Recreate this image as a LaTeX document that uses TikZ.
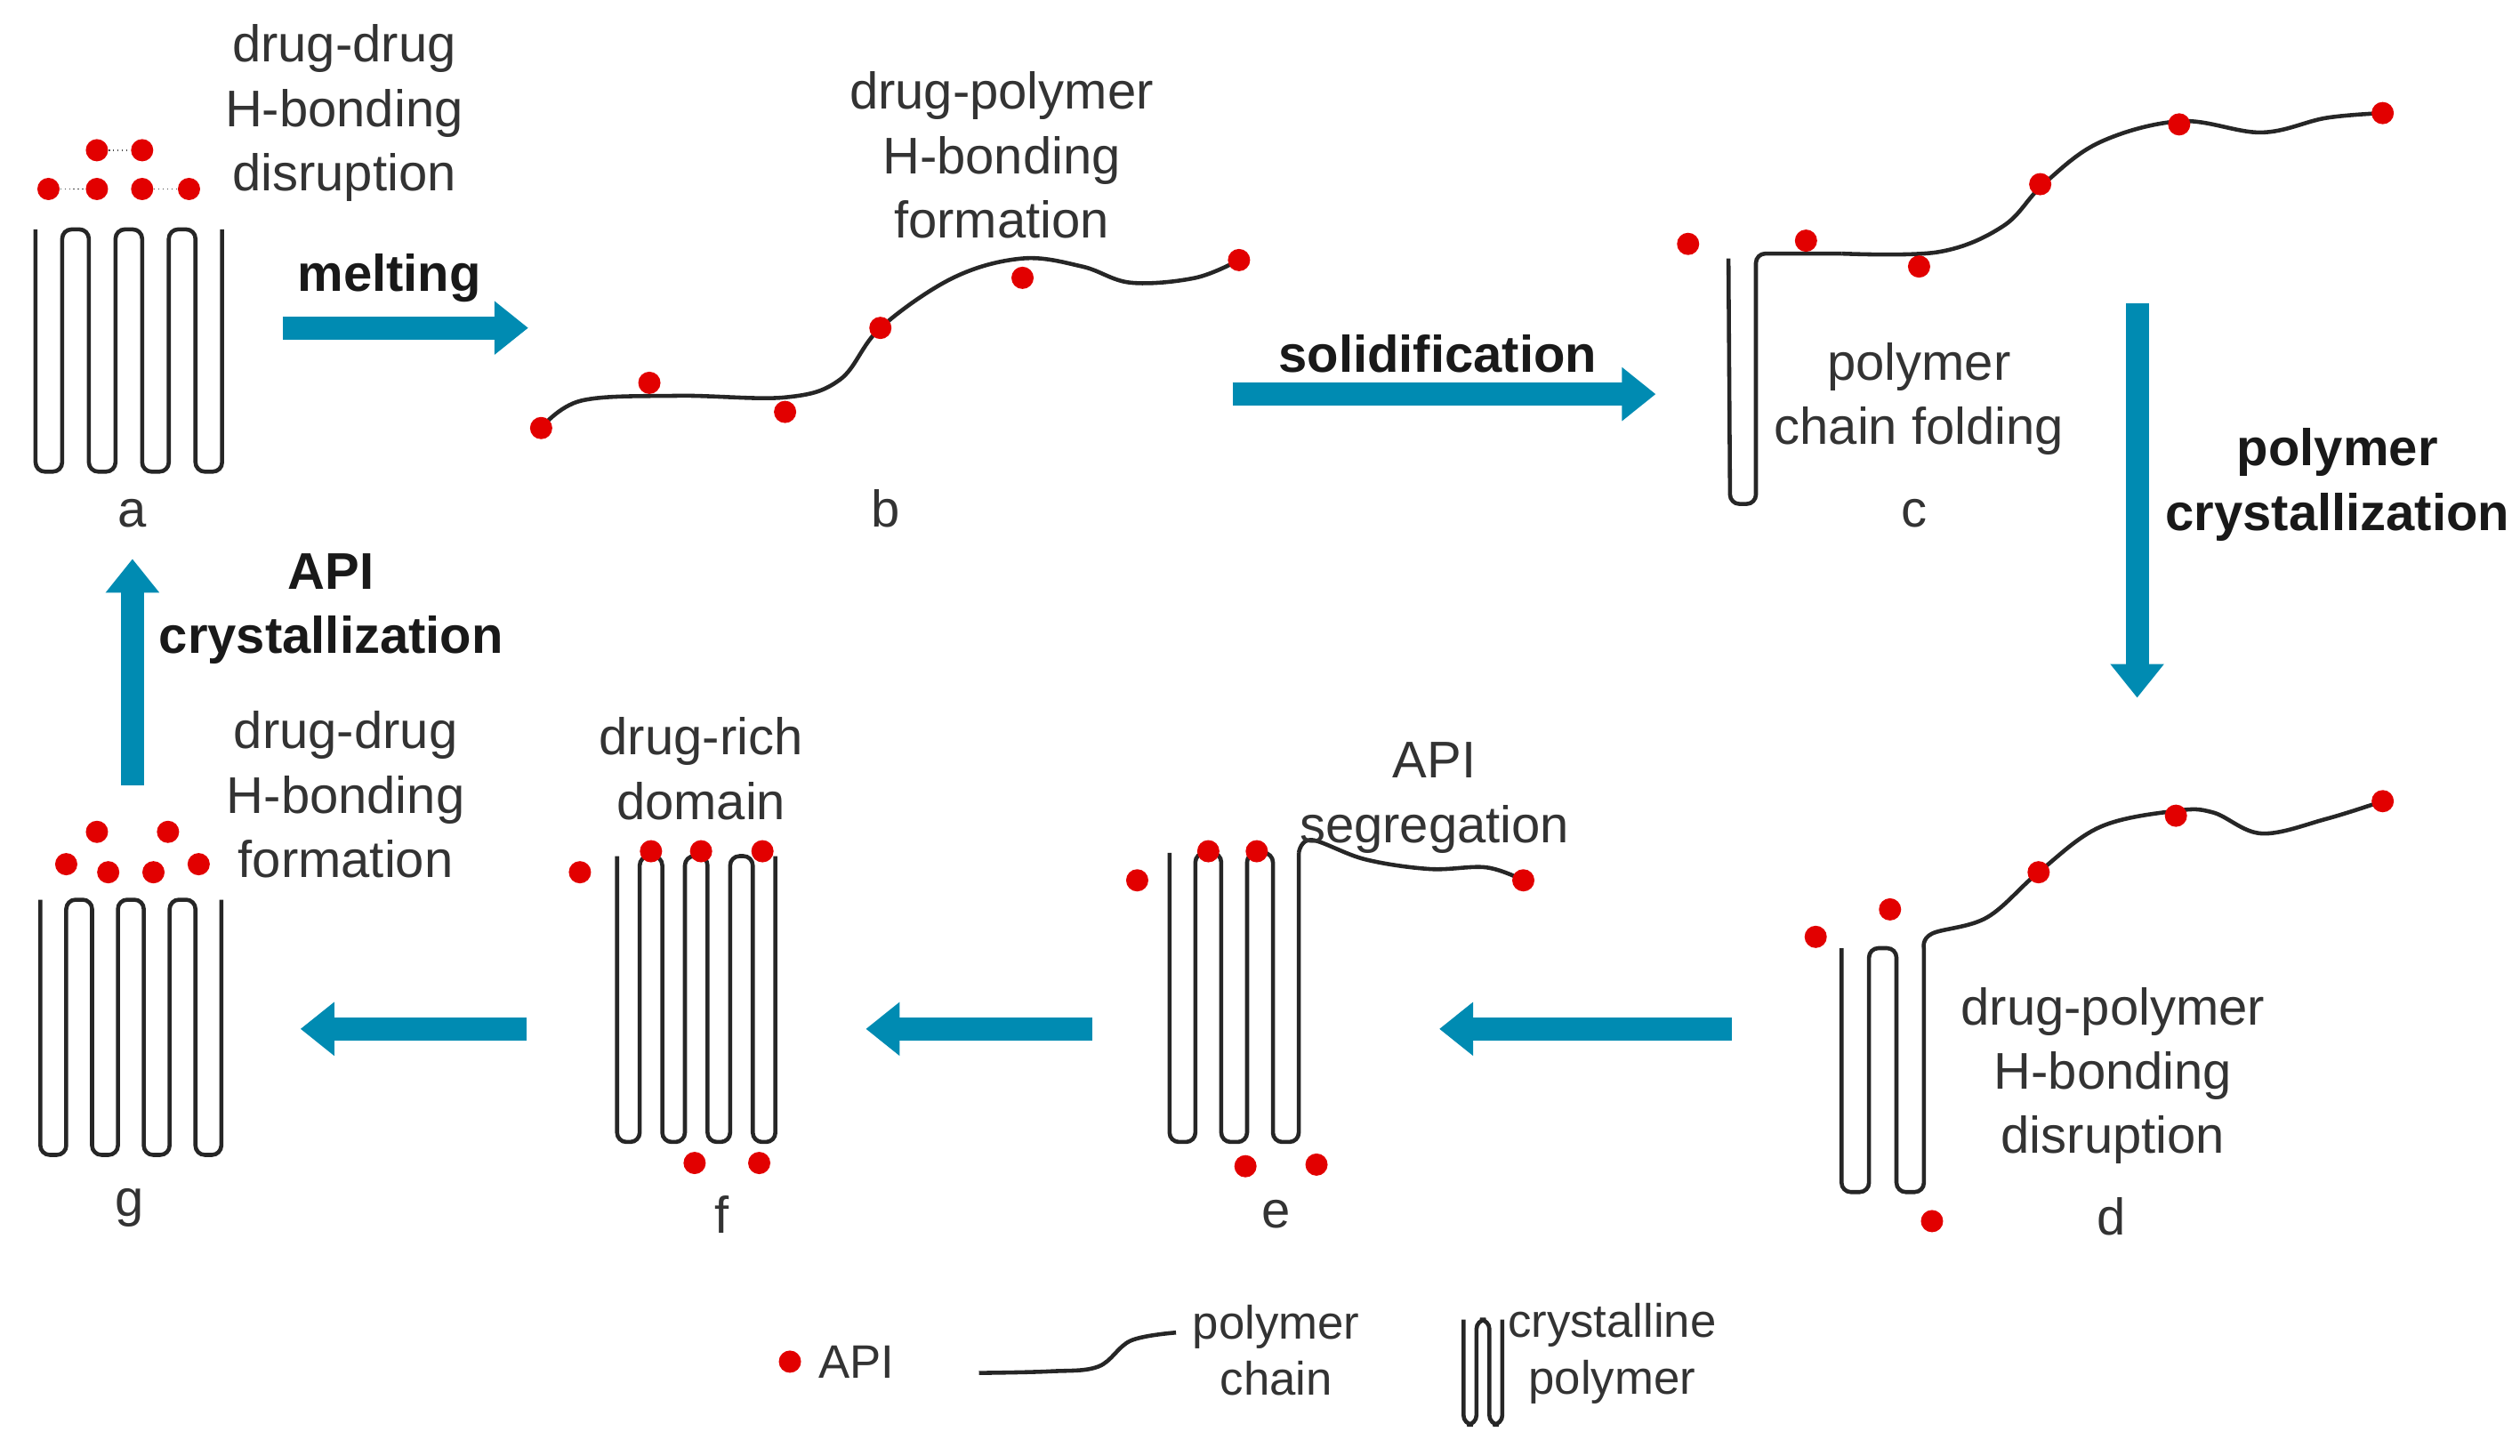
\documentclass[tikz,border=0pt]{standalone}
\usepackage{fontspec}
\setmainfont{Liberation Sans}
\usetikzlibrary{arrows.meta}
\definecolor{flow}{RGB}{0,139,178}
\definecolor{apired}{RGB}{226,0,0}
\tikzset{
  chain/.style={line width=1.3pt,black!85},
  api/.style={circle,fill=apired,inner sep=0pt,minimum size=0.25cm},
  stage/.style={line width=0.26cm,flow,-{Triangle[length=0.38cm,width=0.58cm]}},
  txt/.style={align=center,text=black!80,font=\fontsize{16.5}{20.6}\selectfont},
  bold/.style={txt,font=\fontsize{16.5}{20.6}\selectfont\bfseries,text=black!90},
}
% folded lamella: x0, top, bottom, strands, spacing
\newcommand{\lamella}[5]{%
  \pgfmathtruncatemacro\lastk{#4-2}%
  \draw[chain,rounded corners=3pt] (#1,#2)
    \foreach \k in {0,...,\lastk}{
      -- ({#1+\k*#5},{mod(\k,2)==0 ? #3 : #2})
      -- ({#1+(\k+1)*#5},{mod(\k,2)==0 ? #3 : #2}) }
    -- ({#1+(#4-1)*#5},{mod(#4-1,2)==0 ? #3 : #2});}

\begin{document}
\begin{tikzpicture}[x=0.01816cm,y=-0.01816cm]
  \useasboundingbox (0,0) rectangle (1560,901);

  % a
  \lamella{22}{142}{292}{8}{16.5}
  \node[txt] (la) at (82,318) {a};
  \foreach \n/\x/\y in {a1/30/117,a2/60/117,a3/88/117,a4/117/117,a5/60/93,a6/88/93}
    \node[api] (\n) at (\x,\y) {};
  \draw[densely dotted,black!70] (a1) -- (a2) (a3) -- (a4) (a5) -- (a6);
  \node[txt] (ta) at (213,70) {drug-drug\\H-bonding\\disruption};
  \coordinate (m1) at (175,203); \coordinate (m2) at (327,203);
  \draw[stage] (m1) -- (m2);
  \node[bold] (melt) at (241,172) {melting};

  % b
  \draw[chain] plot[smooth,tension=.6] coordinates {(335,265) (360,248) (420,245) (486,246) (520,235) (545,203) (590,172) (633,160) (670,165) (700,175) (740,172) (767,161)};
  \foreach \n/\x/\y in {b1/335/265,b2/402/237,b3/486/255,b4/545/203,b5/633/172,b6/767/161}
    \node[api] (\n) at (\x,\y) {};
  \node[txt] (lb) at (548,315) {b};
  \node[txt] (tb) at (620,96) {drug-polymer\\H-bonding\\formation};
  \coordinate (s1) at (763,244); \coordinate (s2) at (1025,244);
  \draw[stage] (s1) -- (s2);
  \node[bold] (solid) at (890,219) {solidification};

  % c
  \draw[chain,rounded corners=3pt] (1070,160) -- (1071,312) -- (1087,312) -- (1087,157) -- (1140,157);
  \draw[chain] plot[smooth,tension=.6] coordinates {(1140,157) (1200,156) (1240,140) (1265,114) (1300,88) (1350,75) (1400,82) (1440,73) (1475,70)};
  \foreach \n/\x/\y in {c1/1045/151,c2/1118/149,c3/1188/165,c4/1263/114,c5/1349/77,c6/1475/70}
    \node[api] (\n) at (\x,\y) {};
  \node[txt] (lc) at (1185,318) {c};
  \node[txt] (tc) at (1188,247) {polymer\\chain folding};
  \coordinate (p1) at (1323,188); \coordinate (p2) at (1323,432);
  \draw[stage] (p1) -- (p2);
  \node[bold] (pcry) at (1447,300) {polymer\\crystallization};

  % d
  \lamella{1140}{587}{738}{4}{17}
  \draw[chain] plot[smooth,tension=.6] coordinates {(1191,587) (1196,578) (1230,568) (1262,540) (1300,512) (1347,502) (1370,503) (1400,516) (1440,507) (1475,496)};
  \foreach \n/\x/\y in {d1/1124/580,d2/1170/563,d3/1262/540,d4/1347/505,d5/1475/496,d6/1196/756}
    \node[api] (\n) at (\x,\y) {};
  \node[txt] (ld) at (1307,753) {d};
  \node[txt] (td) at (1308,666) {drug-polymer\\H-bonding\\disruption};
  \coordinate (d2e1) at (1072,637); \coordinate (d2e2) at (891,637);
  \draw[stage] (d2e1) -- (d2e2);

  % e
  \lamella{724}{528}{707}{6}{16}
  \draw[chain] plot[smooth,tension=.6] coordinates {(804,528) (812,520) (845,532) (885,538) (920,537) (943,545)};
  \foreach \n/\x/\y in {e1/704/545,e2/748/527,e3/778/527,e4/943/545,e5/771/722,e6/815/721}
    \node[api] (\n) at (\x,\y) {};
  \node[txt] (le) at (790,752) {e};
  \node[txt] (te) at (888,494) {API\\segregation};
  \coordinate (e2f1) at (676,637); \coordinate (e2f2) at (536,637);
  \draw[stage] (e2f1) -- (e2f2);

  % f
  \lamella{382}{530}{707}{8}{14}
  \foreach \n/\x/\y in {f1/359/540,f2/403/527,f3/434/527,f4/472/527,f5/430/720,f6/470/720}
    \node[api] (\n) at (\x,\y) {};
  \node[txt] (lf) at (447,752) {f};
  \node[txt] (tf) at (434,476) {drug-rich\\domain};
  \coordinate (f2g1) at (326,637); \coordinate (f2g2) at (186,637);
  \draw[stage] (f2g1) -- (f2g2);

  % g
  \lamella{25}{557}{715}{8}{16}
  \foreach \n/\x/\y in {g1/60/515,g2/104/515,g3/41/535,g4/67/540,g5/95/540,g6/123/535}
    \node[api] (\n) at (\x,\y) {};
  \node[txt] (lg) at (80,748) {g};
  \node[txt] (tg) at (214,492) {drug-drug\\H-bonding\\formation};
  \coordinate (g2a1) at (82,486); \coordinate (g2a2) at (82,346);
  \draw[stage] (g2a1) -- (g2a2);
  \node[bold] (acry) at (205,377) {API\\crystallization};

  % legend
  \node[api] (kapi) at (489,843) {};
  \node[txt,anchor=west,font=\fontsize{15}{18}\selectfont] (kapit) at (500,843) {API};
  \draw[chain] plot[smooth,tension=.6] coordinates {(606,850) (650,849) (680,846) (700,830) (728,825)};
  \node[txt,font=\fontsize{15}{18}\selectfont] (kchain) at (790,836) {polymer\\chain};
  \lamella{906}{817}{882}{4}{8}
  \node[txt,font=\fontsize{15}{18}\selectfont] (kcry) at (998,838) {crystalline\\polymer};
\end{tikzpicture}
\end{document}
